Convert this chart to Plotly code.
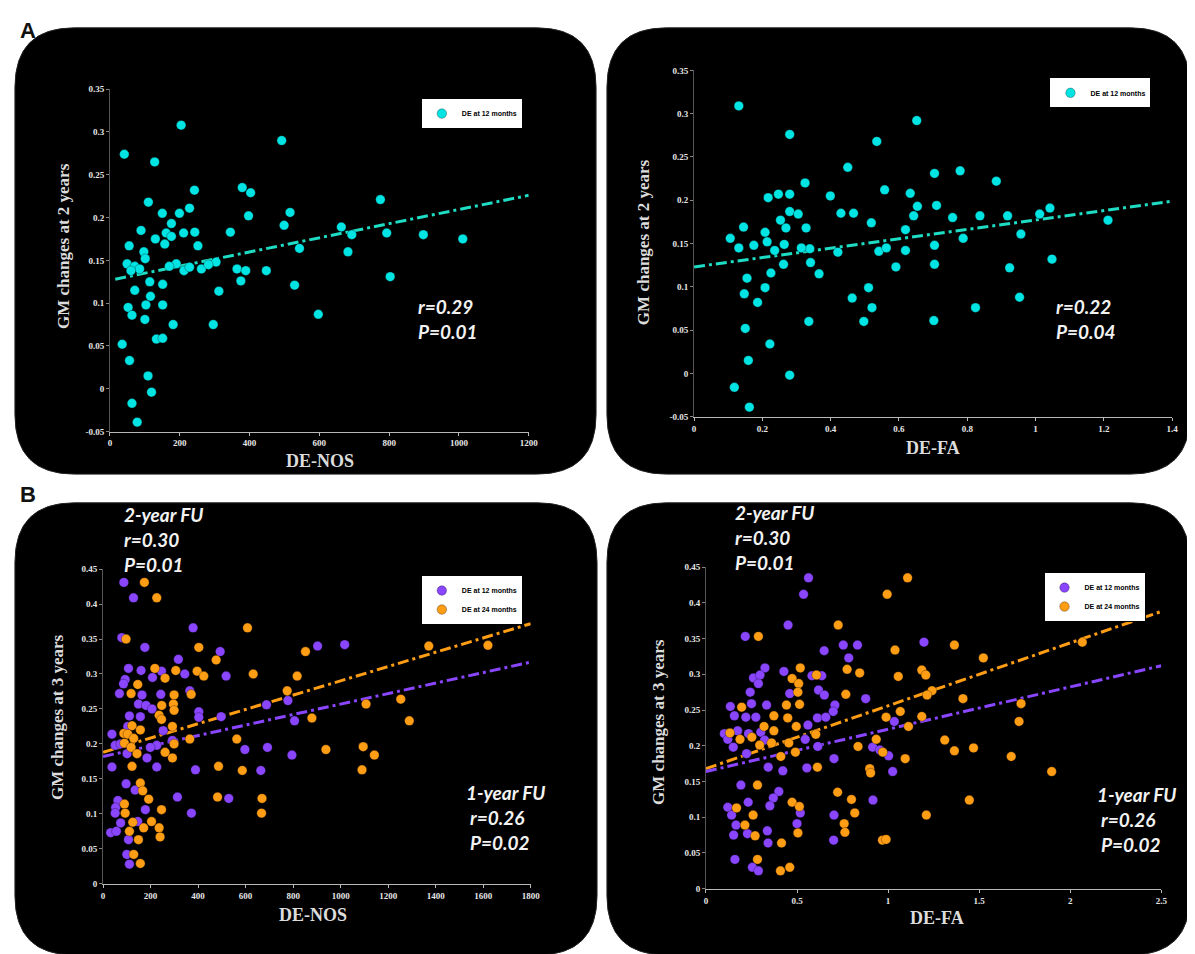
import plotly.graph_objects as go

W, H = 1195, 954

# ---------------- data ----------------
# Panel A left: DE-NOS vs GM changes at 2 years
a1_x = [41,204,492,128,242,379,403,775,110,397, 516,150,199,228,176,499,663,89,161,176,
        211,243,345,793,898,1011,130,252,55,157, 543,693,682,97,101,49,71,85,60,190,
        212,228,304,364,389,448,375,114,151,529, 803,71,312,116,103,151,52,63,597,100,
        181,296,133,151,35,56,109,119,63,78, 170,262,282]
a1_y = [0.274,0.308,0.290,0.265,0.232,0.235,0.229,0.221,0.218,0.202, 0.206,0.205,0.205,0.211,0.193,0.191,0.189,0.185,0.182,0.178,
        0.182,0.183,0.183,0.182,0.180,0.175,0.175,0.167,0.167,0.169, 0.164,0.180,0.160,0.160,0.152,0.146,0.143,0.140,0.138,0.146,
        0.138,0.142,0.148,0.140,0.138,0.138,0.126,0.125,0.122,0.121, 0.131,0.115,0.114,0.108,0.098,0.098,0.095,0.086,0.087,0.081,
        0.075,0.075,0.058,0.059,0.052,0.033,0.015,-0.004,-0.017,-0.039, 0.143,0.140,0.145]
a1_fit_x = [15, 1200]
a1_fit_y = [0.128, 0.226]

# Panel A right: DE-FA vs GM changes at 2 years
a2_x = [0.131,0.652,0.280,0.535,0.450,0.704,0.779,0.885,0.325,0.558, 0.399,0.633,0.217,0.247,0.280,0.654,0.710,0.430,0.467,0.280,
        0.305,0.643,0.757,0.837,0.918,1.012,1.042,1.212,0.145,0.208, 0.253,0.269,0.328,0.519,0.619,0.106,0.131,0.175,0.214,0.264,
        0.339,0.421,0.541,0.563,0.619,0.704,0.788,0.957,0.236,0.314, 0.262,0.341,0.591,0.704,0.924,1.048,0.225,0.366,0.155,0.511,
        0.208,0.147,0.463,0.953,0.186,0.521,0.824,0.336,0.497,0.702, 0.150,0.222,0.159,0.280,0.118,0.162]
a2_y = [0.309,0.292,0.276,0.268,0.238,0.231,0.234,0.222,0.220,0.212, 0.205,0.208,0.203,0.207,0.207,0.193,0.194,0.185,0.185,0.187,
        0.184,0.182,0.180,0.182,0.182,0.184,0.191,0.177,0.169,0.163, 0.177,0.168,0.168,0.174,0.166,0.156,0.145,0.148,0.152,0.149,
        0.144,0.140,0.141,0.145,0.142,0.148,0.156,0.161,0.142,0.145, 0.126,0.128,0.123,0.126,0.122,0.132,0.116,0.115,0.110,0.099,
        0.099,0.092,0.087,0.088,0.082,0.076,0.076,0.060,0.060,0.061, 0.052,0.034,0.015,-0.002,-0.016,-0.039]
a2_fit_x = [0, 1.4]
a2_fit_y = [0.123, 0.199]

# Panel B left: DE-NOS vs GM changes at 3 years
b1_p_x = [87.5,128,79,379,176,317,493,107,160,246, 208,344,518,93,86,69,164,243,365,149,
          181,206,403,403,111,157,497,688,104,253, 37.5,51,74,101,226,199,292,185,37.5,226,
          389,597,692,664,97,135,313,529,62.5,53, 51,178,372,74,146,32,56,107,100,111,
          903,1017,795,806,778]
b1_p_y = [0.431,0.409,0.352,0.366,0.338,0.321,0.332,0.308,0.305,0.304, 0.295,0.300,0.297,0.292,0.286,0.272,0.270,0.271,0.276,0.257,
          0.255,0.250,0.246,0.238,0.240,0.239,0.239,0.256,0.225,0.219, 0.214,0.198,0.200,0.186,0.198,0.195,0.205,0.180,0.167,0.167,
          0.163,0.192,0.195,0.162,0.143,0.134,0.124,0.122,0.119,0.109, 0.101,0.106,0.101,0.087,0.089,0.073,0.075,0.063,0.042,0.028,
          0.340,0.342,0.184,0.233,0.262]
b1_o_x = [174,226,97,608,403,476,218,306,396,424, 261,632,146,118,299,371,247,296,299,236,
          246,122,292,157,87.5,104,129,90,118,143, 261,299,292,365,563,122,486,586,157,167,
          192,482,669,90,93,246,667,125,204,111, 171,236,149,240,129,157,
          852,817,775,879,938,1095,1142,1090,1107,1253, 1289,1371,1620]
b1_o_y = [0.431,0.409,0.350,0.366,0.338,0.320,0.308,0.305,0.304,0.297, 0.294,0.300,0.285,0.272,0.270,0.271,0.255,0.257,0.248,0.241,
          0.235,0.226,0.225,0.220,0.215,0.214,0.208,0.201,0.195,0.186, 0.188,0.200,0.180,0.207,0.207,0.168,0.168,0.162,0.144,0.133,
          0.121,0.124,0.122,0.114,0.101,0.106,0.101,0.088,0.089,0.075, 0.080,0.080,0.063,0.067,0.042,0.029,
          0.332,0.297,0.276,0.237,0.192,0.196,0.184,0.163,0.257,0.264, 0.233,0.340,0.341]
b1_fit_x = [0, 1800]
b1_fit_p_y = [0.182, 0.317]
b1_fit_o_y = [0.188, 0.372]

# Panel B right: DE-FA vs GM changes at 3 years
b2_p_x = [0.563,0.536,0.451,0.216,0.649,0.754,0.832,0.784,0.324,0.261, 0.297,0.288,0.428,0.582,0.636,0.243,0.460,0.618,0.650,0.877,
          0.134,0.250,0.333,0.708,0.699,0.156,0.219,0.274,0.612,0.658, 0.560,0.101,0.174,0.234,0.120,0.150,0.301,0.322,0.545,0.614,
          0.223,0.915,0.955,0.342,0.422,0.554,0.703,0.192,0.400,0.370, 0.232,0.351,0.518,0.120,0.141,0.703,0.917,0.165,0.228,0.337,
          0.152,0.500,0.341,0.701,0.159,0.255,0.288, 1.197,1.034,1.003,1.025]
b2_p_y = [0.435,0.412,0.369,0.353,0.333,0.341,0.341,0.323,0.309,0.295, 0.299,0.287,0.304,0.298,0.298,0.275,0.273,0.278,0.271,0.266,
          0.255,0.259,0.257,0.257,0.248,0.242,0.240,0.240,0.239,0.240, 0.229,0.217,0.221,0.217,0.209,0.198,0.219,0.208,0.209,0.199,
          0.189,0.198,0.194,0.170,0.165,0.169,0.182,0.145,0.136,0.127, 0.121,0.116,0.106,0.114,0.103,0.103,0.124,0.089,0.077,0.081,
          0.075,0.091,0.064,0.068,0.041,0.030,0.025, 0.345,0.234,0.186,0.164]
b2_o_x = [0.995,0.726,0.288,0.518,0.775,0.844,0.607,0.473,0.509,0.505, 0.768,0.514,0.442,0.196,0.373,0.449,0.319,0.373,0.496,0.603,
          0.132,0.187,0.252,0.935,0.455,0.360,0.295,0.835,0.971,0.411, 0.491,0.612,0.899,0.904,0.283,0.723,0.799,0.473,0.513,0.168,
          0.259,0.817,0.214,0.270,0.505,0.759,0.763,0.415,0.969,0.283, 0.409,0.460,
          1.107,1.364,1.038,1.523,1.185,1.207,1.056,1.241,1.214,1.411, 1.730,2.066,1.067,0.989,1.185,1.112,1.719,1.311,1.364,1.469,
          1.676,1.094,1.898,1.446,1.210,0.989]
b2_o_y = [0.412,0.369,0.353,0.309,0.307,0.302,0.299,0.294,0.287,0.275, 0.272,0.258,0.257,0.254,0.242,0.239,0.227,0.221,0.227,0.216,
          0.218,0.209,0.212,0.209,0.204,0.204,0.201,0.199,0.191,0.185, 0.191,0.170,0.168,0.162,0.145,0.135,0.125,0.121,0.115,0.113,
          0.103,0.106,0.089,0.074,0.078,0.091,0.079,0.064,0.068,0.041, 0.025,0.030,
          0.435,0.341,0.334,0.323,0.306,0.299,0.297,0.277,0.271,0.266, 0.259,0.345,0.248,0.240,0.241,0.227,0.234,0.208,0.193,0.197,
          0.185,0.182,0.164,0.124,0.103,0.069]
b2_fit_x = [0, 2.5]
b2_fit_p_y = [0.164, 0.312]
b2_fit_o_y = [0.168, 0.388]

# tick labels
a1_xticks = [0, 200, 400, 600, 800, 1000, 1200]
a2_xticks = [0, 0.2, 0.4, 0.6, 0.8, 1, 1.2, 1.4]
a2_xtext = ["0", "0.2", "0.4", "0.6", "0.8", "1", "1.2", "1.4"]
a_yticks = [-0.05, 0, 0.05, 0.1, 0.15, 0.2, 0.25, 0.3, 0.35]
a_ytext = ["-0.05", "0", "0.05", "0.1", "0.15", "0.2", "0.25", "0.3", "0.35"]
b1_xticks = [0, 200, 400, 600, 800, 1000, 1200, 1400, 1600, 1800]
b2_xticks = [0, 0.5, 1, 1.5, 2, 2.5]
b2_xtext = ["0", "0.5", "1", "1.5", "2", "2.5"]
b_yticks = [0, 0.05, 0.1, 0.15, 0.2, 0.25, 0.3, 0.35, 0.4, 0.45]
b_ytext = ["0", "0.05", "0.1", "0.15", "0.2", "0.25", "0.3", "0.35", "0.4", "0.45"]

# ---------------- styling ----------------
CYAN = "#00e4e4"
CYAN_LINE = "#1fdcc4"
PURPLE = "#8a45ff"
ORANGE = "#ff9d14"


def px(x):
    return x / W


def py(y):
    return 1 - y / H


fig = go.Figure()


def dots(x, y, color, name, xa, ya, legend, show=True):
    fig.add_trace(go.Scatter(
        x=x, y=y, mode="markers", name=name, xaxis=xa, yaxis=ya, legend=legend,
        showlegend=show,
        marker=dict(size=9.5, color=color, line=dict(width=0.6, color="rgba(0,0,0,0.5)"))))


def fit(x, y, color, xa, ya):
    fig.add_trace(go.Scatter(
        x=x, y=y, mode="lines", xaxis=xa, yaxis=ya, showlegend=False, hoverinfo="skip",
        line=dict(color=color, width=3, dash="11px,4px,3px,4px")))


fit(a1_fit_x, a1_fit_y, CYAN_LINE, "x", "y")
dots(a1_x, a1_y, CYAN, "DE at 12 months", "x", "y", "legend")
fit(a2_fit_x, a2_fit_y, CYAN_LINE, "x2", "y2")
dots(a2_x, a2_y, CYAN, "DE at 12 months", "x2", "y2", "legend2")
fit(b1_fit_x, b1_fit_o_y, ORANGE, "x3", "y3")
fit(b1_fit_x, b1_fit_p_y, PURPLE, "x3", "y3")
dots(b1_p_x, b1_p_y, PURPLE, "DE at 12 months", "x3", "y3", "legend3")
dots(b1_o_x, b1_o_y, ORANGE, "DE at 24 months", "x3", "y3", "legend3")
fit(b2_fit_x, b2_fit_o_y, ORANGE, "x4", "y4")
fit(b2_fit_x, b2_fit_p_y, PURPLE, "x4", "y4")
dots(b2_p_x, b2_p_y, PURPLE, "DE at 12 months", "x4", "y4", "legend4")
dots(b2_o_x, b2_o_y, ORANGE, "DE at 24 months", "x4", "y4", "legend4")

tickfont = dict(family="Liberation Serif", size=9, color="#e6e6e6", weight="bold")


def xaxis(dom, rng, vals, text, anchor):
    return dict(domain=[px(dom[0]), px(dom[1])], range=rng, anchor=anchor,
                tickvals=vals, ticktext=text, tickfont=tickfont,
                showgrid=False, zeroline=False, showline=True, linecolor="#b8b8b8",
                linewidth=1, ticks="outside", ticklen=3, tickcolor="#b8b8b8", fixedrange=True)


def yaxis(dom, rng, vals, text, anchor):
    return dict(domain=[py(dom[1]), py(dom[0])], range=rng, anchor=anchor,
                tickvals=vals, ticktext=text, tickfont=tickfont,
                showgrid=False, zeroline=False, showline=True, linecolor="#555555",
                linewidth=1, ticks="outside", ticklen=3, tickcolor="#888888", fixedrange=True)


def rounded(x0, y0, x1, y1, r):
    rx, ry = r, r
    pts = [
        ("M", [(x0 + rx, y0)]), ("L", [(x1 - rx, y0)]), ("Q", [(x1, y0), (x1, y0 + ry)]),
        ("L", [(x1, y1 - ry)]), ("Q", [(x1, y1), (x1 - rx, y1)]),
        ("L", [(x0 + rx, y1)]), ("Q", [(x0, y1), (x0, y1 - ry)]),
        ("L", [(x0, y0 + ry)]), ("Q", [(x0, y0), (x0 + rx, y0)]),
    ]
    s = ""
    for cmd, ps in pts:
        s += cmd + " " + " ".join(f"{px(a):.5f},{py(b):.5f}" for a, b in ps) + " "
    s += "Z"
    return dict(type="path", path=s, xref="paper", yref="paper", layer="below",
                fillcolor="#000000", line=dict(color="#222222", width=1))


shapes = [
    rounded(5, 15, 592, 466, 60),
    rounded(603, 15, 1192, 466, 60),
    rounded(5, 495, 593, 952, 60),
    rounded(603, 495, 1192, 952, 60),
]

ann = []
TXT = dict(family="Lato", size=19, color="#f2f2f2", weight="bold", style="italic")


def note(x, y, t):
    ann.append(dict(x=px(x), y=py(y), xref="paper", yref="paper", text=t, showarrow=False,
                    xanchor="left", yanchor="middle", font=TXT))


note(410, 297, "r=0.29"); note(410, 322, "P=0.01")
note(1055, 297, "r=0.22"); note(1055, 322, "P=0.04")
note(113, 507, "2-year FU"); note(113, 532, "r=0.30"); note(113, 557, "P=0.01")
note(459, 788, "1-year FU"); note(463, 813, "r=0.26"); note(463, 838, "P=0.02")
note(730, 505, "2-year FU"); note(730, 530, "r=0.30"); note(730, 555, "P=0.01")
note(1096, 790, "1-year FU"); note(1100, 815, "r=0.26"); note(1100, 840, "P=0.02")

TITLE = dict(family="Liberation Serif", size=18, color="#dcdcdc", weight="bold")
YTITLE = dict(family="Liberation Serif", size=17, color="#dcdcdc", weight="bold")


def xtitle(x, y, t):
    ann.append(dict(x=px(x), y=py(y), xref="paper", yref="paper", text=t, showarrow=False,
                    xanchor="center", yanchor="middle", font=TITLE))


def ytitle(x, y, t):
    ann.append(dict(x=px(x), y=py(y), xref="paper", yref="paper", text=t, showarrow=False,
                    xanchor="center", yanchor="middle", textangle=-90, font=YTITLE))


xtitle(313, 453, "DE-NOS"); ytitle(54, 235, "GM changes at 2 years")
xtitle(932, 440, "DE-FA"); ytitle(640, 232, "GM changes at 2 years")
xtitle(306, 912, "DE-NOS"); ytitle(48, 712, "GM changes at 3 years")
xtitle(936, 915, "DE-FA"); ytitle(655, 716, "GM changes at 3 years")

for lab, yy in (("A", 18), ("B", 487)):
    ann.append(dict(x=px(8), y=py(yy), xref="paper", yref="paper", text=lab, showarrow=False,
                    xanchor="left", yanchor="middle",
                    font=dict(family="Liberation Sans", size=22, color="#111111", weight="bold")))


def leg(x, y):
    return dict(x=px(x), y=py(y), xanchor="left", yanchor="top", bgcolor="white",
                bordercolor="black", borderwidth=1, itemsizing="trace", tracegroupgap=0,
                font=dict(family="Liberation Sans", size=7, color="black", weight="bold"))


fig.update_layout(
    width=W, height=H, margin=dict(l=0, r=0, t=0, b=0),
    paper_bgcolor="white", plot_bgcolor="rgba(0,0,0,0)",
    shapes=shapes, annotations=ann, hovermode=False,
    xaxis=xaxis((101, 524), [0, 1200], a1_xticks, [str(v) for v in a1_xticks], "y"),
    yaxis=yaxis((77, 423), [-0.05, 0.35], a_yticks, a_ytext, "x"),
    xaxis2=xaxis((691, 1174), [0, 1.4], a2_xticks, a2_xtext, "y2"),
    yaxis2=yaxis((58, 408), [-0.05, 0.35], a_yticks, a_ytext, "x2"),
    xaxis3=xaxis((94, 526), [0, 1800], b1_xticks, [str(v) for v in b1_xticks], "y3"),
    yaxis3=yaxis((562, 880), [0, 0.45], b_yticks, b_ytext, "x3"),
    xaxis4=xaxis((703, 1163), [0, 2.5], b2_xticks, b2_xtext, "y4"),
    yaxis4=yaxis((560, 885), [0, 0.45], b_yticks, b_ytext, "x4"),
    legend=leg(415, 86), legend2=leg(1050, 65), legend3=leg(415, 568), legend4=leg(1044, 565),
)

fig.write_html("out.html")
